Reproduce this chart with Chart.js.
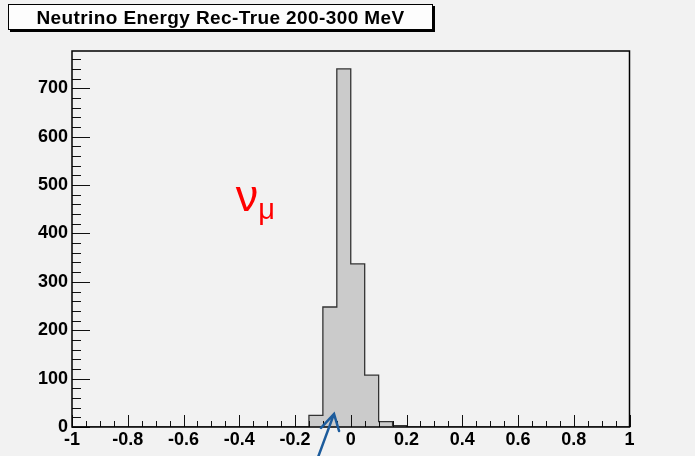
<!DOCTYPE html>
<html><head><meta charset="utf-8">
<script src="https://cdn.jsdelivr.net/npm/chart.js@4.4.1/dist/chart.umd.min.js"></script>
<style>
html,body{margin:0;padding:0;background:#f2f2f2;}
#wrap{position:relative;width:695px;height:456px;overflow:hidden;}
#c{position:absolute;left:0;top:0;}
#title{position:absolute;left:8px;top:4px;width:425px;height:26px;box-sizing:border-box;border:1px solid #000;box-shadow:2px 2px 0 #000;background:#fdfdfd;font:bold 19px "Liberation Sans",Arial,sans-serif;line-height:25px;text-align:center;letter-spacing:0.4px;color:#000;white-space:nowrap;}
</style></head><body>
<div id="wrap"><canvas id="c" width="695" height="456"></canvas><div id="title">Neutrino Energy Rec-True 200-300 MeV</div></div>
<script>
// ---- data ----
const binLowEdges = [-0.15, -0.10, -0.05, 0.00, 0.05, 0.10, 0.15];
const binWidth = 0.05;
const counts = [24, 248, 740, 337, 107, 11, 3];
const xTickValues = [-1, -0.8, -0.6, -0.4, -0.2, 0, 0.2, 0.4, 0.6, 0.8, 1];
const yTickValues = [0, 100, 200, 300, 400, 500, 600, 700];
const xMin = -1, xMax = 1, yMax = 777;
const labelMain = "ν", labelSub = "μ";

// histogram outline points (step-before: each point's value holds until next edge)
const lastEdge = binLowEdges[binLowEdges.length - 1] + binWidth;
const points = [{x: xMin, y: 0}]
  .concat(binLowEdges.map((e, i) => ({x: e, y: counts[i]})))
  .concat([{x: lastEdge, y: 0}, {x: xMax, y: 0}]);

const FONT = '"Liberation Sans", Arial, sans-serif';
const fmt = v => String(Math.round(v * 10) / 10);

const rootDecor = {
  id: 'rootDecor',
  afterDraw(chart) {
    const {ctx, chartArea: a, scales: {x, y}} = chart;
    ctx.save();
    // ticks inside the frame
    ctx.beginPath();
    ctx.strokeStyle = '#111';
    ctx.lineWidth = 1;
    for (let k = 0; k <= 40; k++) {
      const v = xMin + k * 0.05;
      const px = Math.round(x.getPixelForValue(v)) + 0.5;
      const len = (k % 4 === 0) ? 12 : 6;
      ctx.moveTo(px, a.bottom);
      ctx.lineTo(px, a.bottom - len);
    }
    for (let v = 0; v <= yMax; v += 20) {
      const py = Math.round(y.getPixelForValue(v)) + 0.5;
      const len = (v % 100 === 0) ? 18 : 9;
      ctx.moveTo(a.left, py);
      ctx.lineTo(a.left + len, py);
    }
    ctx.stroke();
    // frame
    ctx.lineWidth = 1.5;
    ctx.strokeStyle = '#000';
    ctx.strokeRect(a.left, a.top, a.right - a.left, a.bottom - a.top);
    // nu_mu label
    ctx.fillStyle = '#ff0000';
    ctx.textBaseline = 'alphabetic';
    ctx.textAlign = 'left';
    const lx = x.getPixelForValue(-0.413), ly = y.getPixelForValue(447);
    ctx.font = '45px ' + FONT;
    ctx.fillText(labelMain, lx, ly);
    const w = ctx.measureText(labelMain).width;
    ctx.font = '29px ' + FONT;
    ctx.fillText(labelSub, lx + w, ly + 8);
    // blue arrow
    const tx = x.getPixelForValue(-0.06), ty = y.getPixelForValue(27);
    ctx.strokeStyle = '#1d5c9c';
    ctx.lineWidth = 2.5;
    ctx.lineCap = 'round';
    ctx.beginPath();
    ctx.moveTo(tx - 17, ty + 46);
    ctx.lineTo(tx, ty);
    ctx.moveTo(tx - 13, ty + 14);
    ctx.lineTo(tx, ty);
    ctx.lineTo(tx + 5, ty + 17);
    ctx.stroke();
    ctx.restore();
  }
};

new Chart(document.getElementById('c'), {
  type: 'line',
  data: {
    datasets: [{
      data: points,
      stepped: 'before',
      fill: 'origin',
      backgroundColor: '#cbcbcb',
      borderColor: '#333',
      borderWidth: 1.3,
      pointRadius: 0,
      tension: 0
    }]
  },
  options: {
    responsive: false,
    animation: false,
    events: [],
    layout: {padding: {left: 0, top: 51, right: 65.5, bottom: 0}},
    plugins: {legend: {display: false}, tooltip: {enabled: false}, title: {display: false}},
    scales: {
      x: {
        type: 'linear', min: xMin, max: xMax,
        grid: {display: false, drawTicks: false},
        border: {display: false},
        afterBuildTicks: s => { s.ticks = xTickValues.map(v => ({value: v})); },
        afterFit: s => { s.height = 29; },
        ticks: {autoSkip: false, maxRotation: 0, padding: 2, color: '#000',
          font: {family: FONT, size: 18, weight: 'bold'}, callback: v => fmt(v)}
      },
      y: {
        type: 'linear', min: 0, max: yMax,
        grid: {display: false, drawTicks: false},
        border: {display: false},
        afterBuildTicks: s => { s.ticks = yTickValues.map(v => ({value: v})); },
        afterFit: s => { s.width = 72; },
        ticks: {autoSkip: false, padding: 4, color: '#000',
          font: {family: FONT, size: 18, weight: 'bold'}, callback: v => fmt(v)}
      }
    }
  },
  plugins: [rootDecor]
});
</script>
</body></html>
